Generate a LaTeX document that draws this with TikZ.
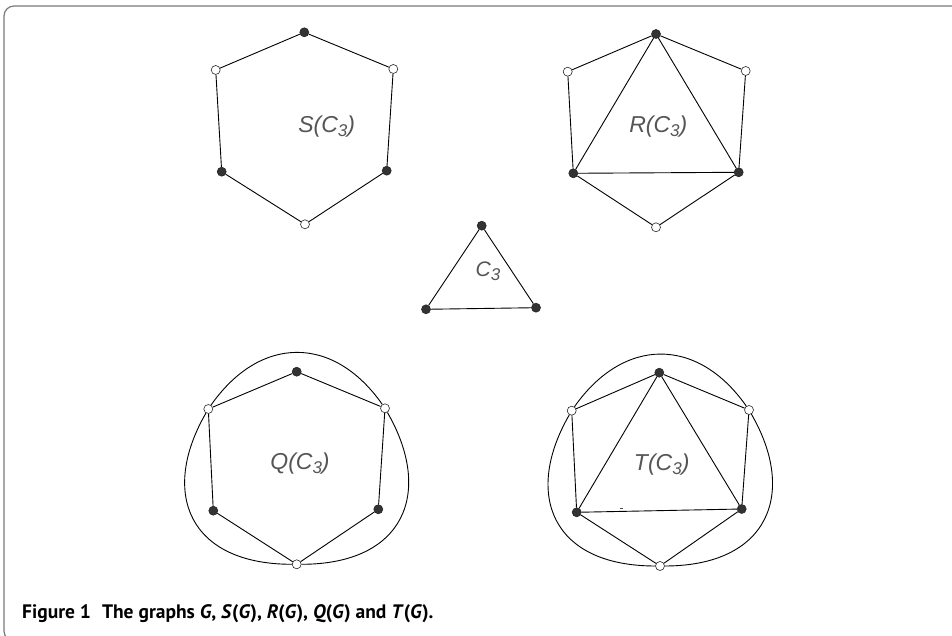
\documentclass[tikz,border=0pt]{standalone}
\usepackage{fontspec}
\setmainfont{Liberation Sans}
\newfontfamily\capfont{PT Sans}
\definecolor{lblgray}{HTML}{555555}
\definecolor{framegray}{HTML}{7A7A7A}
\definecolor{vfill}{HTML}{333333}
\newcommand\lsub{\raisebox{-4pt}{\fontsize{17}{17}\selectfont 3}}
\begin{document}
\begin{tikzpicture}[x=1pt,y=1pt,
  vb/.style={circle,inner sep=0pt,minimum size=9pt,draw=black!85,fill=vfill,line width=0.6pt},
  vw/.style={circle,inner sep=0pt,minimum size=9pt,draw=black!85,fill=white,line width=0.6pt},
  edge/.style={line width=0.9pt,black},
  lbl/.style={text=lblgray,font=\fontsize{23}{23}\selectfont\itshape,inner sep=0pt},
  frame/.style={draw=framegray,line width=1.2pt,rounded corners=10pt}]
\useasboundingbox (0,0) rectangle (952,636);
\clip (0,0) rectangle (952,636);
\draw[frame] (4,-5) rectangle (990,630);

% ---------- S(C3)
\node[vb] (st) at (304.3,603.7) {};
\node[vw] (sul) at (215.7,566) {};
\node[vw] (sur) at (393.3,567) {};
\node[vb] (sll) at (221.7,464.3) {};
\node[vb] (slr) at (386.7,465.3) {};
\node[vw] (sb) at (305,411.7) {};
\draw[edge] (st) -- (sur) -- (slr) -- (sb) -- (sll) -- (sul) -- (st);
\node[lbl] (ls) at (326.7,509.3) {S(C\lsub)};

% ---------- R(C3)
\node[vb] (rt) at (656,602) {};
\node[vw] (rul) at (567.7,564.3) {};
\node[vw] (rur) at (745.7,565) {};
\node[vb] (rll) at (573.3,462.7) {};
\node[vb] (rlr) at (738.7,463.7) {};
\node[vw] (rb) at (656,408.7) {};
\draw[edge] (rt) -- (rur) -- (rlr) -- (rb) -- (rll) -- (rul) -- (rt);
\draw[edge] (rt) -- (rll) -- (rlr) -- (rt);
\node[lbl] (lr) at (658.3,509.3) {R(C\lsub)};

% ---------- C3
\node[vb] (ct) at (481.7,410.3) {};
\node[vb] (cll) at (426,326.7) {};
\node[vb] (clr) at (536,328.3) {};
\draw[edge] (ct) -- (cll) -- (clr) -- (ct);
\node[lbl,font=\fontsize{21}{21}\selectfont\itshape] (lc) at (488,364.3) {C\lsub};

% ---------- Q(C3)
\node[vb] (qt) at (296.7,264.3) {};
\node[vw] (qul) at (208.3,227) {};
\node[vw] (qur) at (385,227.7) {};
\node[vb] (qll) at (213.3,125.3) {};
\node[vb] (qlr) at (378.3,126.7) {};
\node[vw] (qb) at (296.7,71.7) {};
\draw[edge] (qt) -- (qur) -- (qlr) -- (qb) -- (qll) -- (qul) -- (qt);
\draw[edge] (qul) .. controls +(55:90) and +(125:90) .. (qur);
\draw[edge] (qur) .. controls +(-60:97) and +(0:108) .. (qb);
\draw[edge] (qb) .. controls +(180:108) and +(240:97) .. (qul);
\node[lbl] (lq) at (300,172.7) {Q(C\lsub)};

% ---------- T(C3)
\node[vb] (tt) at (659.3,263.3) {};
\node[vw] (tul) at (571.7,225.3) {};
\node[vw] (tur) at (749,226) {};
\node[vb] (tll) at (576.7,123.7) {};
\node[vb] (tlr) at (741.7,127) {};
\node[vw] (tb) at (660,70) {};
\draw[edge] (tt) -- (tur) -- (tlr) -- (tb) -- (tll) -- (tul) -- (tt);
\draw[edge] (tt) -- (tll) -- (tlr) -- (tt);
\draw[edge] (tul) .. controls +(55:90) and +(125:90) .. (tur);
\draw[edge] (tur) .. controls +(-60:97) and +(0:108) .. (tb);
\draw[edge] (tb) .. controls +(180:108) and +(240:97) .. (tul);
\node[lbl] (lt) at (661.7,171) {T(C\lsub)};
\coordinate (dA) at (619.5,127.2);
\coordinate (dB) at (622.5,127.2);
\draw[black!70,line width=0.6pt] (dA) -- (dB);

% ---------- caption
\node[anchor=base west,inner sep=0pt,font=\capfont\bfseries\fontsize{19.5}{21}\selectfont] (cap) at (22,17)
  {Figure 1\hspace{11pt}The graphs \textit{G}, \textit{S}(\textit{G}), \textit{R}(\textit{G}), \textit{Q}(\textit{G}) and \textit{T}(\textit{G}).};
\end{tikzpicture}
\end{document}
